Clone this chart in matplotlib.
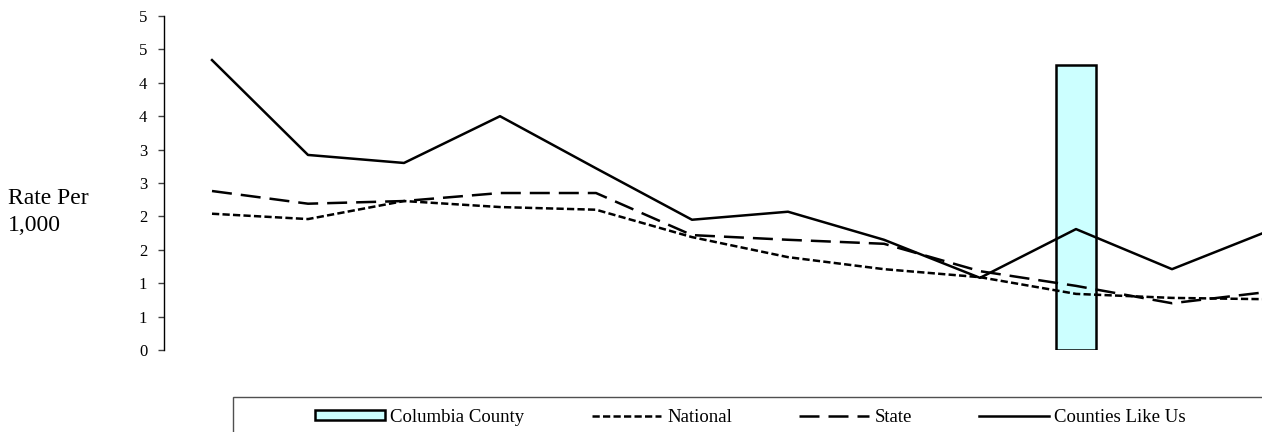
import numpy as np
import matplotlib
matplotlib.use("Agg")
import matplotlib.pyplot as plt
from matplotlib.patches import Rectangle

plt.rcParams['font.family'] = ['Liberation Serif', 'DejaVu Serif']

# ---- data ----
n_points = 12
columbia = [np.nan, np.nan, np.nan, np.nan, np.nan, np.nan, np.nan, np.nan, np.nan, 4.27, np.nan, np.nan]
national = [2.04, 1.96, 2.23, 2.14, 2.10, 1.69, 1.39, 1.21, 1.09, 0.84, 0.78, 0.76]
state = [2.38, 2.19, 2.23, 2.35, 2.35, 1.72, 1.65, 1.59, 1.18, 0.96, 0.70, 0.87]
counties = [4.34, 2.92, 2.80, 3.50, 2.72, 1.95, 2.07, 1.65, 1.08, 1.81, 1.21, 1.78]
ytick_values = [0, 0.5, 1, 1.5, 2, 2.5, 3, 3.5, 4, 4.5, 5]
ytick_labels = ['0', '1', '1', '2', '2', '3', '3', '4', '4', '5', '5']
series_names = ['Columbia County', 'National', 'State', 'Counties Like Us']
ylabel = 'Rate Per\n1,000'

W, H = 1262, 432
fig = plt.figure(figsize=(W / 100, H / 100), dpi=100)
ax = fig.add_axes([164 / W, (H - 350) / H, 1152 / W, 334 / H])

x = np.arange(n_points)
bar = ax.bar(x, columbia, width=0.42, color='#CCFFFF', edgecolor='black',
             linewidth=1.8, label=series_names[0], zorder=2)
ln_nat, = ax.plot(x, national, color='black', lw=1.8, dashes=(2.9, 1.3),
                  label=series_names[1], zorder=3)
ln_st, = ax.plot(x, state, color='black', lw=1.8, dashes=(8.0, 3.6),
                 label=series_names[2], zorder=3)
ln_cl, = ax.plot(x, counties, color='black', lw=1.8, label=series_names[3], zorder=3)

ax.set_xlim(-0.5, n_points - 0.5)
ax.set_ylim(0, 5)
ax.set_yticks(ytick_values)
ax.set_yticklabels(ytick_labels)
ax.set_xticks([])
for s in ['top', 'right', 'bottom']:
    ax.spines[s].set_visible(False)
ax.spines['left'].set_linewidth(1.0)
ax.tick_params(axis='y', direction='out', length=4, width=1, labelsize=12, pad=8,
               color='#404040')

fig.text(8 / W, (H - 212) / H, ylabel, fontsize=17, ha='left', va='center',
         linespacing=1.4)

# legend frame
fig.patches.append(Rectangle((233 / W, -0.2), 1.2, (H - 397) / H + 0.2,
                             transform=fig.transFigure, fill=False,
                             edgecolor='#505050', linewidth=1.0))

leg = fig.legend([bar, ln_nat, ln_st, ln_cl], series_names, loc='center left',
                 bbox_to_anchor=(306 / W, (H - 417) / H), ncol=4, frameon=False,
                 fontsize=13.5, borderpad=0, handlelength=3.7, handleheight=0.45,
                 handletextpad=0.3, columnspacing=3.6)

fig.savefig('out.png', dpi=100)
